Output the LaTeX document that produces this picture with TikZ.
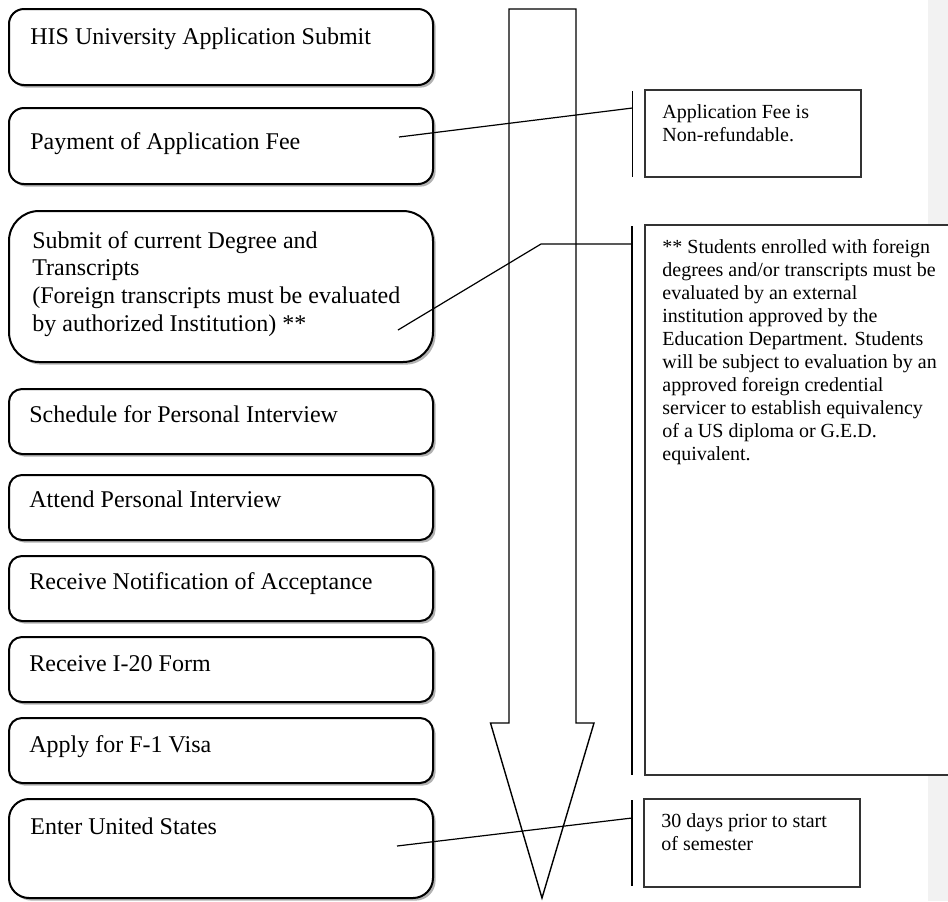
\documentclass[tikz,border=0pt]{standalone}
\usepackage{fontspec}
\setmainfont{Liberation Serif}
\usetikzlibrary{fit,shadows}
\tikzset{
  stepbox/.style={draw=black, line width=1pt, fill=white, inner sep=0pt,
    drop shadow={shadow xshift=1.3pt, shadow yshift=-1.3pt, fill=black!30, opacity=1}},
  steptext/.style={anchor=base west, inner sep=0pt, font=\fontsize{12pt}{13.9pt}\selectfont},
  notebox/.style={draw=black!80, line width=0.7pt, fill=white, inner sep=0pt},
  notetext/.style={anchor=base west, inner sep=0pt, font=\fontsize{10pt}{11.55pt}\selectfont},
  leader/.style={draw=black, line width=0.6pt},
  accentbar/.style={draw=black, line width=0.7pt},
  flowarrow/.style={draw=black, line width=0.7pt}
}
\begin{document}
\begin{tikzpicture}[x=0.5pt,y=-0.5pt]
\useasboundingbox (0,0) rectangle (948,901);
\fill[white] (0,0) rectangle (948,901);
\fill[black!5] (928,0) rectangle (948,901);

% step boxes
\node[stepbox, rounded corners=7.5pt, fit={(9,9) (433,85)}] (s1) {};
\node[stepbox, rounded corners=7.5pt, fit={(9,108) (433,184)}] (s2) {};
\node[stepbox, rounded corners=15pt, fit={(9,211) (433,362)}] (s3) {};
\node[stepbox, rounded corners=6.5pt, fit={(9,389) (433,454)}] (s4) {};
\node[stepbox, rounded corners=6.5pt, fit={(9,475) (433,540)}] (s5) {};
\node[stepbox, rounded corners=6.5pt, fit={(9,556) (433,621)}] (s6) {};
\node[stepbox, rounded corners=6.5pt, fit={(9,637) (433,702)}] (s7) {};
\node[stepbox, rounded corners=6.5pt, fit={(9,718) (433,783)}] (s8) {};
\node[stepbox, rounded corners=10pt, fit={(9,799) (433,898)}] (s9) {};

\node[steptext] (t1) at (30,44) {HIS University Application Submit};
\node[steptext] (t2) at (30,149) {Payment of Application Fee};
\node[steptext] (t3) at (32,248) {\parbox[t]{230pt}{Submit of current Degree and\\Transcripts\\(Foreign transcripts must be evaluated\\by authorized Institution) **}};
\node[steptext] (t4) at (29,422) {Schedule for Personal Interview};
\node[steptext] (t5) at (29,507) {Attend Personal Interview};
\node[steptext] (t6) at (29,589) {Receive Notification of Acceptance};
\node[steptext] (t7) at (29,671) {Receive I-20 Form};
\node[steptext] (t8) at (29,752) {Apply for F-1 Visa};
\node[steptext] (t9) at (30,834) {Enter United States};

% big down arrow
\draw[flowarrow] (509,9) -- (576,9) -- (576,723) -- (594,723) -- (542,898)
  -- (490.5,723) -- (509,723) -- cycle;

% callout 1
\coordinate (p1) at (399,137);
\coordinate (q1) at (632.5,108);
\coordinate (b1a) at (632.5,91);
\coordinate (b1b) at (632.5,177);
\draw[leader] (p1) -- (q1);
\draw[accentbar] (b1a) -- (b1b);
\node[notebox, fit={(645,90) (861,177)}] (n1) {};
\node[notetext] (n1t) at (662,118) {\parbox[t]{120pt}{Application Fee is\\Non-refundable.}};

% callout 2
\coordinate (p2) at (398,330);
\coordinate (k2) at (541,244);
\coordinate (q2) at (632,244);
\coordinate (b2a) at (632,226);
\coordinate (b2b) at (632,775);
\draw[leader] (p2) -- (k2) -- (q2);
\draw[accentbar] (b2a) -- (b2b);
\node[notebox, fit={(645,225) (956,775)}] (n2) {};
\node[notetext] (n2t) at (662,253) {\parbox[t]{160pt}{** Students enrolled with foreign\\degrees and/or transcripts must be\\evaluated by an external\\institution approved by the\\Education Department. Students\\will be subject to evaluation by an\\approved foreign credential\\servicer to establish equivalency\\of a US diploma or G.E.D.\\equivalent.}};

% callout 3
\coordinate (p3) at (397,846);
\coordinate (q3) at (632,818);
\coordinate (b3a) at (632,800);
\coordinate (b3b) at (632,886);
\draw[leader] (p3) -- (q3);
\draw[accentbar] (b3a) -- (b3b);
\node[notebox, fit={(644,799) (860,887)}] (n3) {};
\node[notetext] (n3t) at (661,827) {\parbox[t]{120pt}{30 days prior to start\\of semester}};
\end{tikzpicture}
\end{document}
